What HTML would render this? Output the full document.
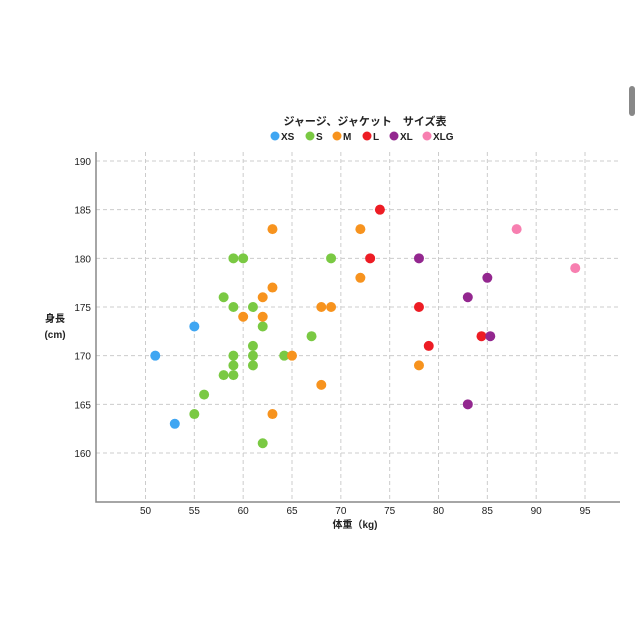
<!DOCTYPE html>
<html><head><meta charset="utf-8"><style>
body{margin:0;background:#fff;width:640px;height:640px;overflow:hidden;font-family:"Liberation Sans","Noto Sans CJK JP",sans-serif;}
</style></head><body>
<svg width="640" height="640" style="position:absolute;left:0;top:0">
<rect x="629" y="86" width="6" height="30" rx="3" fill="#888"/>
<text x="365" y="125" text-anchor="middle" font-size="11" font-weight="bold" fill="#222">ジャージ、ジャケット　サイズ表</text>
<g id="legend"></g>
<g id="grid"></g>
<g id="axes"></g>
<g id="pts"></g>
<text x="55" y="322" text-anchor="middle" font-size="10" font-weight="bold" fill="#222">身長</text>
<text x="55" y="338" text-anchor="middle" font-size="10" font-weight="bold" fill="#222">(cm)</text>
<text x="355" y="528" text-anchor="middle" font-size="10" font-weight="bold" fill="#222">体重（kg)</text>
</svg>
<script>
const seriesNames=["XS","S","M","L","XL","XLG"];
const seriesColors=["#3fa6f2","#7ac943","#f7931e","#ed1c24","#93278f","#f77fb0"];
const xsData=[[55,173],[51,170],[53,163]];
const sData=[[59,180],[60,180],[69,180],[58,176],[59,175],[61,175],[62,173],[67,172],[61,171],[59,170],[61,170],[64.2,170],[59,169],[61,169],[58,168],[59,168],[56,166],[55,164],[62,161]];
const mData=[[63,183],[72,183],[63,177],[62,176],[68,175],[69,175],[72,178],[60,174],[62,174],[65,170],[78,169],[68,167],[63,164]];
const lData=[[74,185],[73,180],[78,175],[84.4,172],[79,171]];
const xlData=[[78,180],[85,178],[83,176],[85.3,172],[83,165]];
const xlgData=[[88,183],[94,179]];
const xTicks=[50,55,60,65,70,75,80,85,90,95];
const yTicks=[160,165,170,175,180,185,190];
const NS="http://www.w3.org/2000/svg";
const X=v=>145.5+(v-50)*9.767;
const Y=v=>161+(190-v)*9.733;
function mk(t,a,p){const e=document.createElementNS(NS,t);for(const k in a)e.setAttribute(k,a[k]);p.appendChild(e);return e;}
const grid=document.getElementById('grid'),axes=document.getElementById('axes'),pts=document.getElementById('pts'),leg=document.getElementById('legend');
xTicks.forEach(t=>{const l=mk('line',{x1:X(t),x2:X(t),y1:152,y2:502,stroke:'#ccc','stroke-dasharray':'4,3'},grid);

const tx=mk('text',{x:X(t),y:514,'text-anchor':'middle','font-size':10,fill:'#222'},axes);tx.textContent=t;
});
yTicks.forEach(t=>{const l=mk('line',{x1:96,x2:620,y1:Y(t),y2:Y(t),stroke:'#ccc','stroke-dasharray':'4,3'},grid);

const tx=mk('text',{x:91,y:Y(t)+4,'text-anchor':'end','font-size':10,fill:'#222'},axes);tx.textContent=t;
});
const ax=mk('path',{d:'M96 152 V502 H620',fill:'none',stroke:'#888','stroke-width':1.5},axes);

[xsData,sData,mData,lData,xlData,xlgData].forEach((d,i)=>{d.forEach(p=>{const c=mk('circle',{cx:X(p[0]),cy:Y(p[1]),r:5,fill:seriesColors[i]},pts);
});});
const legX=[275,310,337,367,394,427];
seriesNames.forEach((n,i)=>{const c=mk('circle',{cx:legX[i],cy:136,r:4.5,fill:seriesColors[i]},leg);

const t=mk('text',{x:legX[i]+6,y:140,'font-size':10,'font-weight':'bold',fill:'#222'},leg);t.textContent=n;
});
</script>
</body></html>
